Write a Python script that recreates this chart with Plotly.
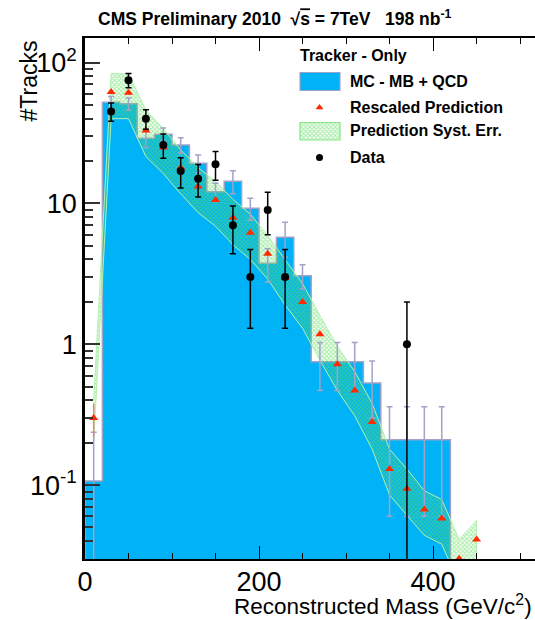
import plotly.graph_objects as go

# ---------------------------------------------------------------------------
# Values
# ---------------------------------------------------------------------------
bin_edges = [0, 20, 40, 60, 80, 100, 120, 140, 160, 180, 200, 220, 240, 260,
             280, 300, 320, 340, 360, 380, 400, 420]
mc_centers = [10, 30, 50, 70, 90, 110, 130, 150, 170, 190, 210, 230, 250, 270,
              290, 310, 330, 350, 370, 390, 410]
mc_values = [0.107, 52.4, 51.0, 29.0, 31.0, 26.0, 19.3, 12.1, 14.4, 9.25, 3.76,
             5.75, 3.07, 0.75, 0.75, 0.75, 0.53, 0.21, 0.21, 0.21, 0.21]
mc_errors = [0.13, 5.0, 5.0, 4.0, 3.4, 3.3, 2.8, 1.8, 2.7, 1.65, 1.0,
             1.6, 0.6, 0.28, 0.28, 0.28, 0.23, 0.15, 0.15, 0.15, 0.15]

pred_x = [10, 30, 50, 70, 90, 110, 130, 150, 170, 190, 210, 230, 250, 270,
          290, 310, 330, 350, 370, 390, 410, 430, 450]
pred_values = [0.30, 62, 61, 33, 25, 18, 13.2, 10.6, 7.9, 6.2, 4.4, 2.95, 2.0,
               1.18, 0.72, 0.47, 0.28, 0.13, 0.094, 0.067, 0.058, 0.030, 0.041]
pred_errors = [0.08, 0, 0, 0, 0, 0, 0, 0, 0, 0, 0, 0, 0,
               0, 0, 0, 0, 0, 0, 0, 0, 0, 0]
syst_hi = [0.40, 84, 83, 46, 34, 24, 18, 14.3, 10.7, 8.4, 5.9, 4.0, 2.7,
           1.6, 0.97, 0.64, 0.38, 0.18, 0.13, 0.091, 0.079, 0.041, 0.056]
syst_lo = [0.20, 40, 40, 21.5, 16.3, 11.7, 8.6, 6.9, 5.1, 4.0, 2.9, 1.9, 1.3,
           0.77, 0.47, 0.31, 0.18, 0.085, 0.061, 0.044, 0.038, 0.020, 0.027]

data_x = [30, 50, 70, 90, 110, 130, 150, 170, 190, 210, 230, 370]
data_counts = [45, 75, 40, 26, 17, 15, 19, 7, 3, 9, 3, 1]
data_errors = [6.7, 8.7, 6.3, 5.1, 4.1, 3.9, 4.4, 2.6, 1.7, 3.0, 1.7, 1.0]

y_major = [0.1, 1, 10, 100]
y_major_text = ["10<sup>-1</sup>", "1", "10", "10<sup>2</sup>"]
y_minor = [0.03, 0.04, 0.05, 0.06, 0.07, 0.08, 0.09,
           0.2, 0.3, 0.4, 0.5, 0.6, 0.7, 0.8, 0.9,
           2, 3, 4, 5, 6, 7, 8, 9,
           20, 30, 40, 50, 60, 70, 80, 90]
x_major = [0, 200, 400]
x_major_text = ["0", "200", "400"]

# ---------------------------------------------------------------------------
# Style / geometry
# ---------------------------------------------------------------------------
W, H = 535, 620
ML, MR, MT, MB = 85, 0, 38, 61
X_RANGE = [0, 517.2]
Y_RANGE = [-1.525, 2.175]          # log10
FONT = "Liberation Sans, Arial, Helvetica, sans-serif"

MC_BLUE = "#00b3f6"
MC_LINE = "#a2a2c8"
PRED_RED = "#ff2a00"
SYST_GREEN = "rgb(92,222,92)"
SYST_EDGE = "#b2f0b2"

syst_pattern = dict(shape="x", fgcolor=SYST_GREEN, size=3, solidity=0.6,
                    fillmode="overlay")


def px_x(px):
    return (px - ML) / (W - ML - MR)


def px_y(py):
    return (H - MB - py) / (H - MT - MB)


fig = go.Figure()

# MC histogram (filled)
fig.add_trace(go.Bar(
    x=mc_centers, y=mc_values, width=bin_edges[1] - bin_edges[0],
    marker=dict(color=MC_BLUE, line=dict(width=0)),
    showlegend=False, hoverinfo="skip",
))

# MC histogram outline as a step line
floor = 10 ** (Y_RANGE[0] - 1)
step_x = [bin_edges[0]] + bin_edges[:-1] + [bin_edges[-1], bin_edges[-1]]
step_y = [floor] + mc_values + [mc_values[-1], floor]
fig.add_trace(go.Scatter(
    x=step_x, y=step_y, mode="lines", line=dict(color=MC_LINE, width=1.5, shape="hv"),
    showlegend=False, hoverinfo="skip",
))

# prediction systematic band
band_x = pred_x + pred_x[::-1]
band_y = syst_hi + syst_lo[::-1]
fig.add_trace(go.Scatter(
    x=band_x, y=band_y, mode="lines", fill="toself",
    fillcolor="rgba(0,0,0,0)", fillpattern=syst_pattern,
    line=dict(color=SYST_EDGE, width=1),
    showlegend=False, hoverinfo="skip",
))

# MC statistical errors
fig.add_trace(go.Scatter(
    x=mc_centers, y=mc_values, mode="markers",
    marker=dict(size=1, opacity=0),
    error_y=dict(type="data", array=mc_errors, color=MC_LINE, thickness=1.5, width=3),
    showlegend=False, hoverinfo="skip",
))

# rescaled prediction
fig.add_trace(go.Scatter(
    x=pred_x, y=pred_values, mode="markers",
    marker=dict(symbol="triangle-up", size=8, color=PRED_RED),
    error_y=dict(type="data", array=pred_errors, color="#f08070", thickness=1.5, width=0),
    showlegend=False, hoverinfo="skip", cliponaxis=True,
))

# data
fig.add_trace(go.Scatter(
    x=data_x, y=data_counts, mode="markers",
    marker=dict(symbol="circle", size=8, color="black"),
    error_y=dict(type="data", array=data_errors, color="black", thickness=1.5, width=3),
    showlegend=False, hoverinfo="skip",
))

# ---------------------------------------------------------------------------
# Legend drawn on an overlay frame in plot-fraction units
# ---------------------------------------------------------------------------
lx0, lx1 = px_x(300), px_x(340)
fig.add_shape(type="rect", xref="paper", yref="paper",
              x0=lx0, x1=lx1, y0=px_y(90.5), y1=px_y(72.5),
              fillcolor=MC_BLUE, line=dict(color=MC_LINE, width=1.2))
fig.add_trace(go.Scatter(
    x=[lx0, lx1, lx1, lx0, lx0],
    y=[px_y(140), px_y(140), px_y(122.5), px_y(122.5), px_y(140)],
    xaxis="x2", yaxis="y2", mode="lines", fill="toself",
    fillcolor="rgba(0,0,0,0)", fillpattern=syst_pattern,
    line=dict(color="#86e486", width=1.2),
    showlegend=False, hoverinfo="skip",
))
fig.add_trace(go.Scatter(
    x=[px_x(319.5)], y=[px_y(107.5)], xaxis="x2", yaxis="y2", mode="markers",
    marker=dict(symbol="triangle-up", size=7, color=PRED_RED),
    showlegend=False, hoverinfo="skip",
))
fig.add_trace(go.Scatter(
    x=[px_x(319.5)], y=[px_y(157.5)], xaxis="x2", yaxis="y2", mode="markers",
    marker=dict(symbol="circle", size=7, color="black"),
    showlegend=False, hoverinfo="skip",
))

legend_rows = [
    ("Tracker - Only", 298, 55.5),
    ("MC - MB + QCD", 348, 81.5),
    ("Rescaled Prediction", 348, 107.5),
    ("Prediction Syst. Err.", 348, 130.5),
    ("Data", 348, 157.5),
]
annotations = []
for text, px, py in legend_rows:
    annotations.append(dict(
        text=f"<b>{text}</b>", xref="paper", yref="paper",
        x=px_x(px), y=px_y(py), xanchor="left", yanchor="middle",
        showarrow=False, font=dict(family=FONT, size=16, color="black"),
    ))

nb = "\u00a0"
title = (f"<b>CMS Preliminary 2010{nb}{nb}"
         f"\u221a<span style='text-decoration:overline'>s</span> = 7TeV{nb}{nb}{nb}"
         f"198 nb<sup>-1</sup></b>")
annotations.append(dict(
    text=title, xref="paper", yref="paper", x=px_x(275), y=px_y(18),
    xanchor="center", yanchor="middle", showarrow=False,
    font=dict(family=FONT, size=17.5, color="black"),
))
annotations.append(dict(
    text="#Tracks", xref="paper", yref="paper", x=px_x(28), y=px_y(38),
    xanchor="center", yanchor="top", textangle=-90, showarrow=False,
    font=dict(family=FONT, size=23, color="black"),
))
annotations.append(dict(
    text="Reconstructed Mass (GeV/c<sup>2</sup>)", xref="paper", yref="paper",
    x=px_x(534), y=px_y(605), xanchor="right", yanchor="middle", showarrow=False,
    font=dict(family=FONT, size=22.5, color="black"),
))

axis_font = dict(family=FONT, size=27, color="black")

fig.update_layout(
    width=W, height=H,
    margin=dict(l=ML, r=MR, t=MT, b=MB, pad=0),
    paper_bgcolor="white", plot_bgcolor="white",
    barmode="overlay", bargap=0,
    showlegend=False,
    annotations=annotations,
    xaxis=dict(
        range=X_RANGE, showgrid=False, zeroline=False,
        showline=True, linecolor="black", linewidth=2, mirror="allticks",
        ticks="inside", ticklen=13, tickwidth=1, tickcolor="black",
        tickvals=x_major, ticktext=x_major_text, tickfont=axis_font,
        ticklabelstandoff=-2,
        minor=dict(ticks="inside", dtick=50, ticklen=6, tickwidth=1,
                   tickcolor="black", showgrid=False),
    ),
    yaxis=dict(
        type="log", range=Y_RANGE, showgrid=False, zeroline=False,
        showline=True, linecolor="black", linewidth=2.5, mirror=False,
        ticks="inside", ticklen=15, tickwidth=1.5, tickcolor="#333",
        tickvals=y_major, ticktext=y_major_text, tickfont=axis_font,
        minor=dict(ticks="inside", tickvals=y_minor, ticklen=8, tickwidth=1.5,
                   tickcolor="#333", showgrid=False),
    ),
    yaxis3=dict(
        type="log", range=Y_RANGE, overlaying="y", side="right", anchor="x",
        showgrid=False, zeroline=False, showline=False, showticklabels=False,
        ticks="inside", ticklen=15, tickwidth=1.5, tickcolor="#333",
        tickvals=y_major,
        minor=dict(ticks="inside", tickvals=y_minor, ticklen=8, tickwidth=1.5,
                   tickcolor="#333", showgrid=False),
    ),
    xaxis2=dict(range=[0, 1], overlaying="x", visible=False, anchor="y2"),
    yaxis2=dict(range=[0, 1], overlaying="y", visible=False, anchor="x2"),
)

fig.write_html("out.html")
